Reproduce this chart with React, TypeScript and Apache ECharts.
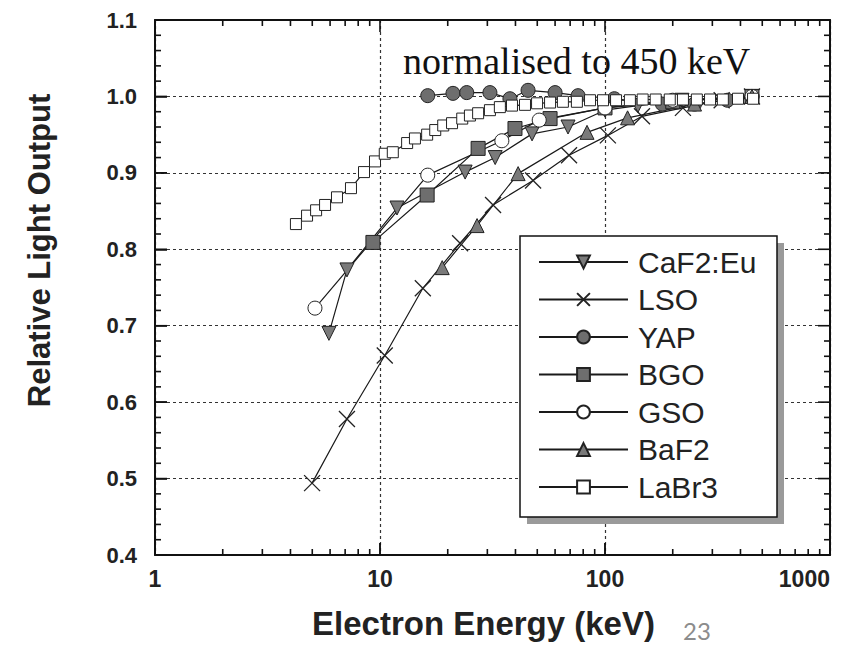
import React, { useEffect, useRef } from 'react';
import * as echarts from 'echarts';

// ---- data ----
const caf2X = [5.93, 7.13, 11.9, 23.9, 32.5, 47.4, 68.5, 100, 140, 220, 450];
const caf2Y = [0.690, 0.773, 0.854, 0.901, 0.920, 0.951, 0.960, 0.982, 0.988, 0.995, 1.0];

const lsoX = [4.99, 7.13, 10.5, 15.5, 22.7, 31.8, 47.9, 69.2, 103, 146, 222, 330, 450];
const lsoY = [0.494, 0.578, 0.661, 0.749, 0.808, 0.858, 0.890, 0.923, 0.949, 0.974, 0.985, 0.995, 1.0];

const yapX = [16.3, 21.1, 24.3, 30.8, 37.8, 45.5, 60, 75.9, 110, 180, 250, 350, 450];
const yapY = [1.001, 1.004, 1.005, 1.005, 0.997, 1.008, 1.005, 1.001, 0.997, 0.990, 0.990, 0.995, 1.0];

const bgoX = [9.3, 16.2, 27.3, 39.8, 57, 100, 200, 450];
const bgoY = [0.809, 0.871, 0.932, 0.958, 0.971, 0.985, 0.993, 1.0];

const gsoX = [5.14, 16.3, 34.8, 51, 100, 200, 450];
const gsoY = [0.723, 0.897, 0.942, 0.969, 0.985, 0.995, 1.0];

const baf2X = [18.9, 27, 41.1, 83.2, 126, 250, 450];
const baf2Y = [0.776, 0.831, 0.899, 0.953, 0.972, 0.990, 1.0];

const labr3X = [4.23, 4.74, 5.2, 5.7, 6.44, 7.43, 8.49, 9.5, 10.5, 11.4, 13.2, 14.3, 16.2, 17.6, 19.1, 20.9, 23.2, 25.1, 27.3,
  30.8, 34.1, 38.6, 44.1, 49.9, 57, 65, 75, 85.8, 98, 112, 129, 147, 168, 194, 222, 256, 293, 334, 390, 455];
const labr3Y = [0.833, 0.844, 0.851, 0.858, 0.868, 0.880, 0.901, 0.915, 0.925, 0.927, 0.939, 0.945, 0.950, 0.956, 0.962, 0.965, 0.971, 0.975, 0.978,
  0.982, 0.986, 0.988, 0.989, 0.991, 0.992, 0.993, 0.993, 0.995, 0.995, 0.995, 0.995, 0.996, 0.996, 0.996, 0.996, 0.996, 0.996, 0.996, 0.997, 0.997];

const seriesNames = ['CaF2:Eu', 'LSO', 'YAP', 'BGO', 'GSO', 'BaF2', 'LaBr3'];

// axis tick values
const xMajorTicks = [1, 10, 100, 1000];
const xMinorTicks = [2, 3, 4, 5, 6, 7, 8, 9, 20, 30, 40, 50, 60, 70, 80, 90, 200, 300, 400, 500, 600, 700, 800, 900];
const yMajorTicks = [0.4, 0.5, 0.6, 0.7, 0.8, 0.9, 1.0, 1.1];
const yMinorTicks = [0.42, 0.44, 0.46, 0.48, 0.52, 0.54, 0.56, 0.58, 0.62, 0.64, 0.66, 0.68, 0.72, 0.74, 0.76, 0.78,
  0.82, 0.84, 0.86, 0.88, 0.92, 0.94, 0.96, 0.98, 1.02, 1.04, 1.06, 1.08];

const pairs = (xs: number[], ys: number[]) => xs.map((x, i) => [x, ys[i]]);

const LINE = { color: '#1a1a1a', width: 1.2 };
const GREY = '#7a7a7a';

const L = 155, R = 31, T = 20, B = 98;
const W = 861, H = 653;
const MAJOR = 12, MINOR = 6;
const X_MIN = 1, X_MAX = 1000, Y_MIN = 0.4, Y_MAX = 1.1;

export default function App() {
  const ref = useRef<HTMLDivElement>(null);
  useEffect(() => {
    if (!ref.current) return;
    const chart = echarts.init(ref.current, null, { renderer: 'svg' });
    const font = 'Liberation Sans';

    // frame tick marks (axis decoration only), placed on the same log / linear mapping as the grid
    const pw = W - L - R, ph = H - T - B;
    const tx = (v: number) => L + pw * (Math.log10(v) - Math.log10(X_MIN)) / (Math.log10(X_MAX) - Math.log10(X_MIN));
    const ty = (v: number) => T + ph * (Y_MAX - v) / (Y_MAX - Y_MIN);
    const tw = 1.6;
    const tickStyle = { fill: '#111' };
    const ticks: any[] = [];
    const addX = (v: number, len: number) => {
      const px = tx(v);
      ticks.push({ type: 'rect', z: 4, silent: true, shape: { x: px - tw / 2, y: T + ph - len, width: tw, height: len }, style: tickStyle });
      ticks.push({ type: 'rect', z: 4, silent: true, shape: { x: px - tw / 2, y: T, width: tw, height: len }, style: tickStyle });
    };
    const addY = (v: number, len: number) => {
      const py = ty(v);
      ticks.push({ type: 'rect', z: 4, silent: true, shape: { x: L, y: py - tw / 2, width: len, height: tw }, style: tickStyle });
      ticks.push({ type: 'rect', z: 4, silent: true, shape: { x: L + pw - len, y: py - tw / 2, width: len, height: tw }, style: tickStyle });
    };
    xMajorTicks.forEach(v => addX(v, MAJOR));
    xMinorTicks.forEach(v => addX(v, MINOR));
    yMajorTicks.forEach(v => addY(v, MAJOR));
    yMinorTicks.forEach(v => addY(v, MINOR));

    const graphic: any[] = [
      { type: 'rect', z: 5, shape: { x: 527, y: 243, width: 257, height: 281 }, style: { fill: '#9a9a9a' } },
      { type: 'rect', z: 6, shape: { x: 520, y: 236, width: 257, height: 281 }, style: { fill: '#fff', stroke: '#111', lineWidth: 1.5 } },
      { type: 'text', z: 10, x: 403, y: 61, style: { text: 'normalised to 450 keV', fontSize: 38, fontFamily: 'Liberation Serif', fill: '#111', verticalAlign: 'middle' } },
      { type: 'text', z: 10, x: 683, y: 630, style: { text: '23', fontSize: 24, fontFamily: 'Lato', fill: '#8c8c8c', verticalAlign: 'middle' } },
      ...ticks,
    ];

    const mk = (name: string, xs: number[], ys: number[], extra: any) => ({
      name, type: 'line', xAxisIndex: 0, yAxisIndex: 0, data: pairs(xs, ys), lineStyle: LINE, ...extra,
    });

    const option: any = {
      animation: false,
      backgroundColor: '#fff',
      grid: { left: L, right: R, top: T, bottom: B, show: false },
      xAxis: [
        {
          type: 'log', logBase: 10, min: X_MIN, max: X_MAX, position: 'bottom',
          axisLine: { show: true, onZero: false, lineStyle: { color: '#111', width: 2 } },
          axisTick: { show: true, inside: true, length: MAJOR, lineStyle: { color: '#111', width: 1.5 } },
          axisLabel: { show: true, fontSize: 23, fontWeight: 'bold', fontFamily: font, color: '#222', margin: 12, alignMaxLabel: 'right', formatter: (v: number) => String(Math.round(v)) },
          splitLine: { show: true, lineStyle: { color: '#333', type: [3, 3], width: 1.2 } },
          name: 'Electron Energy (keV)', nameLocation: 'middle', nameGap: 52,
          nameTextStyle: { fontSize: 33, fontWeight: 'bold', fontFamily: font, color: '#222', padding: [0, 18, 0, 0] },
        },
        {
          type: 'log', logBase: 10, min: X_MIN, max: X_MAX, position: 'top',
          axisLine: { show: true, onZero: false, lineStyle: { color: '#111', width: 2 } },
          axisTick: { show: false }, axisLabel: { show: false }, splitLine: { show: false },
        },
      ],
      yAxis: [
        {
          type: 'value', min: Y_MIN, max: Y_MAX, interval: 0.1, position: 'left',
          axisLine: { show: true, onZero: false, lineStyle: { color: '#111', width: 2 } },
          axisTick: { show: true, inside: true, length: MAJOR, lineStyle: { color: '#111', width: 1.5 } },
          axisLabel: { fontSize: 22, fontWeight: 'bold', fontFamily: font, color: '#222', margin: 18, formatter: (v: number) => v.toFixed(1) },
          splitLine: { show: true, lineStyle: { color: '#333', type: [3, 3], width: 1.2 } },
          name: 'Relative Light Output', nameLocation: 'middle', nameGap: 100,
          nameTextStyle: { fontSize: 31, fontWeight: 'bold', fontFamily: font, color: '#222', padding: [0, 0, 0, 74] },
        },
        {
          type: 'value', min: Y_MIN, max: Y_MAX, interval: 0.1, position: 'right',
          axisLine: { show: true, onZero: false, lineStyle: { color: '#111', width: 2 } },
          axisTick: { show: false }, axisLabel: { show: false }, splitLine: { show: false },
        },
      ],
      legend: {
        orient: 'vertical', left: 538, top: 247, z: 20, padding: 0,
        itemWidth: 89, itemHeight: 16, itemGap: 7.5,
        selectedMode: false,
        data: seriesNames,
        textStyle: { fontSize: 30, lineHeight: 30, fontFamily: font, color: '#222', padding: [0, 0, 0, 5] },
      },
      graphic,
      series: [
        mk('CaF2:Eu', caf2X, caf2Y, { symbol: 'triangle', symbolRotate: 180, symbolSize: 14, itemStyle: { color: GREY, borderColor: '#222', borderWidth: 1 } }),
        mk('LSO', lsoX, lsoY, { symbol: 'path://M0 0L10 10M10 0L0 10', symbolSize: 16, itemStyle: { color: 'none', borderColor: '#222', borderWidth: 1.3 } }),
        mk('YAP', yapX, yapY, { symbol: 'circle', symbolSize: 14, itemStyle: { color: '#6e6e6e', borderColor: '#222', borderWidth: 1 } }),
        mk('BGO', bgoX, bgoY, { symbol: 'rect', symbolSize: 14, itemStyle: { color: '#6e6e6e', borderColor: '#222', borderWidth: 1 } }),
        mk('GSO', gsoX, gsoY, { symbol: 'circle', symbolSize: 14, itemStyle: { color: '#fff', borderColor: '#222', borderWidth: 1 } }),
        mk('BaF2', baf2X, baf2Y, { symbol: 'triangle', symbolSize: 14, itemStyle: { color: GREY, borderColor: '#222', borderWidth: 1 } }),
        mk('LaBr3', labr3X, labr3Y, { symbol: 'rect', symbolSize: 11, itemStyle: { color: '#fff', borderColor: '#222', borderWidth: 1 } }),
      ],
    };
    chart.setOption(option);
    return () => chart.dispose();
  }, []);
  return <div ref={ref} style={{ position: 'fixed', left: 0, top: 0, width: W, height: H, background: '#fff' }} />;
}
